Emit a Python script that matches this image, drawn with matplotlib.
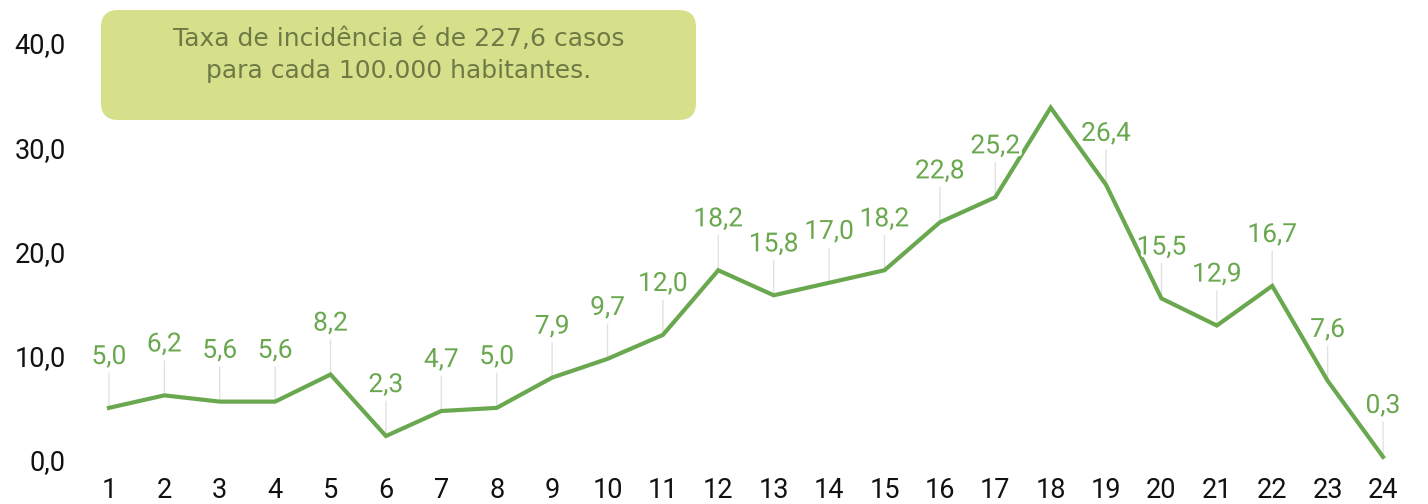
import matplotlib.pyplot as plt
import matplotlib.patheffects as pe
from matplotlib.patches import FancyBboxPatch

semanas = list(range(1, 25))
taxa = [5.0, 6.2, 5.6, 5.6, 8.2, 2.3, 4.7, 5.0, 7.9, 9.7, 12.0, 18.2,
        15.8, 17.0, 18.2, 22.8, 25.2, 33.8, 26.4, 15.5, 12.9, 16.7, 7.6, 0.3]
# o rótulo da semana 18 não aparece no gráfico original
sem_rotulo = [18]
yticks = [0, 10, 20, 30, 40]
nota = "Taxa de incidência é de 227,6 casos\npara cada 100.000 habitantes."

verde = "#6aa84f"

plt.rcParams['font.family'] = ['Roboto', 'DejaVu Sans']

fig = plt.figure(figsize=(14.28, 5.04), dpi=100)
ax = fig.add_axes([0.0569, 0.0873, 0.931, 0.8274])

ax.plot(semanas, taxa, color=verde, lw=3, zorder=2, clip_on=False,
        solid_joinstyle='miter')

for s, v in zip(semanas, taxa):
    if s in sem_rotulo:
        continue
    ax.annotate("", xy=(s, v), xytext=(0, 25), textcoords="offset points",
                arrowprops=dict(arrowstyle="-", color="#e2e2e2", lw=1,
                                shrinkA=0, shrinkB=0), zorder=1)
    ax.annotate(f"{v:.1f}".replace(".", ","), xy=(s, v), xytext=(0, 28),
                textcoords="offset points", ha="center", va="bottom",
                fontsize=19, color=verde, zorder=3,
                path_effects=[pe.withStroke(linewidth=4, foreground="white")])

ax.set_xlim(0.5, 24.5)
ax.set_ylim(0, 40)
ax.set_xticks(semanas)
ax.set_yticks(yticks)
ax.set_yticklabels([f"{t:.1f}".replace(".", ",") for t in yticks])
ax.tick_params(length=0, labelsize=19.5, colors="#111111")
ax.tick_params(axis="x", pad=12)
ax.tick_params(axis="y", pad=11)
for sp in ax.spines.values():
    sp.set_visible(False)

caixa = FancyBboxPatch((101 / 1428, 1 - 120 / 504), 595 / 1428, 110 / 504,
                       boxstyle="round,pad=0,rounding_size=0.012",
                       transform=fig.transFigure, facecolor="#d6e08a",
                       edgecolor="none", mutation_aspect=2.83)
fig.patches.append(caixa)
fig.text(399 / 1428, 1 - 55 / 504, nota, ha="center", va="center",
         fontsize=18, color="#6e7a45", family=["DejaVu Sans"],
         linespacing=1.45)

fig.savefig("out.png")
